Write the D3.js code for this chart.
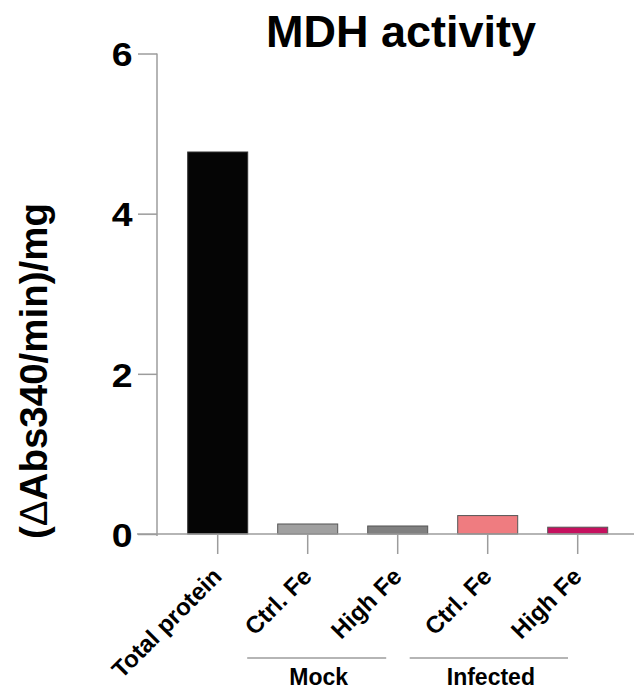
<!DOCTYPE html>
<html>
<head>
<meta charset="utf-8">
<script src="https://cdn.jsdelivr.net/npm/d3@7"></script>
<style>
  html, body { margin: 0; padding: 0; background: #fff; }
  svg { display: block; }
  text { font-family: "Liberation Sans", Arial, Helvetica, sans-serif; font-weight: bold; fill: #000; }
</style>
</head>
<body>
<svg id="chart" width="634" height="689"></svg>
<script>
// Data
const categories = ["Total protein", "Mock Ctrl. Fe", "Mock High Fe", "Infected Ctrl. Fe", "Infected High Fe"];
const tickLabels = ["Total protein", "Ctrl. Fe", "High Fe", "Ctrl. Fe", "High Fe"];
const values = [4.77, 0.125, 0.10, 0.23, 0.085];
const fills = ["#050505", "#a0a0a0", "#808080", "#ef7c80", "#c5105e"];
const groupNames = ["Mock", "Infected"];
const groupMembers = [["Mock Ctrl. Fe", "Mock High Fe"], ["Infected Ctrl. Fe", "Infected High Fe"]];
const yTicks = [0, 2, 4, 6];

const svg = d3.select("#chart");
const axisColor = "#9c9c9c";

// Scales
const y = d3.scaleLinear().domain([0, 6]).range([534, 53.5]);
const x = d3.scaleBand()
  .domain(categories)
  .range([172.7, 622.7])
  .paddingInner(1 / 3)
  .paddingOuter(1 / 6);

// Title
svg.append("text")
  .attr("x", 401).attr("y", 47)
  .attr("text-anchor", "middle")
  .style("font-size", "45px")
  .text("MDH activity");

// Y axis title
const yTitle = svg.append("text")
  .attr("transform", "translate(47,371) rotate(-90)")
  .attr("text-anchor", "middle")
  .style("font-size", "38.5px");
yTitle.append("tspan").text("(");
yTitle.append("tspan").style("font-weight", "normal").text("\u0394");
yTitle.append("tspan").text("Abs340/min)/mg");

// Y axis (tick digits slightly widened)
const tickStretch = 1.1;
const yAxis = svg.append("g")
  .attr("transform", "translate(157,0)")
  .call(d3.axisLeft(y).tickValues(yTicks).tickSize(19).tickPadding(5).tickFormat(d3.format("d")));
yAxis.select(".domain").attr("stroke", axisColor).attr("stroke-width", 1.5)
  .attr("d", `M0,${y(6)}V${y(0) + 2}`);
yAxis.selectAll(".tick line").attr("stroke", axisColor).attr("stroke-width", 1.5);
yAxis.selectAll(".tick text")
  .style("font-size", "34px")
  .style("font-family", "Liberation Sans, Arial, sans-serif")
  .style("font-weight", "bold")
  .attr("fill", "#000")
  .attr("x", -24.5 / tickStretch)
  .attr("transform", `scale(${tickStretch},1)`)
  .attr("dy", "0.36em");

// Bars
svg.append("g").selectAll("rect")
  .data(categories)
  .join("rect")
  .attr("x", d => x(d))
  .attr("width", x.bandwidth())
  .attr("y", (d, i) => y(values[i]))
  .attr("height", (d, i) => y(0) - y(values[i]))
  .attr("fill", (d, i) => fills[i])
  .attr("stroke", (d, i) => i === 0 ? "#333" : "#555")
  .attr("stroke-width", 1);

// X axis
const xAxis = svg.append("g")
  .attr("transform", `translate(0,${y(0)})`)
  .call(d3.axisBottom(x).tickSize(20).tickFormat(""));
xAxis.select(".domain").attr("stroke", axisColor).attr("stroke-width", 1.5)
  .attr("d", "M137,0H634");
xAxis.selectAll(".tick line").attr("stroke", axisColor).attr("stroke-width", 1.5);

// Rotated category labels
svg.append("g").selectAll("text")
  .data(categories)
  .join("text")
  .attr("transform", d => `translate(${x(d) + x.bandwidth() / 2 + 5.5},578) rotate(-45)`)
  .attr("text-anchor", "end")
  .style("font-size", "24px")
  .text((d, i) => tickLabels[i]);

// Group brackets below the rotated labels
const bracketOffsets = [[-30.5, 18.5], [-48, 20.3]];
groupNames.forEach((name, gi) => {
  const [a, b] = groupMembers[gi];
  const x0 = x(a) + bracketOffsets[gi][0];
  const x1 = x(b) + bracketOffsets[gi][1];
  svg.append("line")
    .attr("x1", x0).attr("x2", x1)
    .attr("y1", 658).attr("y2", 658)
    .attr("stroke", axisColor).attr("stroke-width", 1.5);
  svg.append("text")
    .attr("x", (x0 + x1) / 2 + 2).attr("y", 685)
    .attr("text-anchor", "middle")
    .style("font-size", "23px")
    .text(name);
});
</script>
</body>
</html>
